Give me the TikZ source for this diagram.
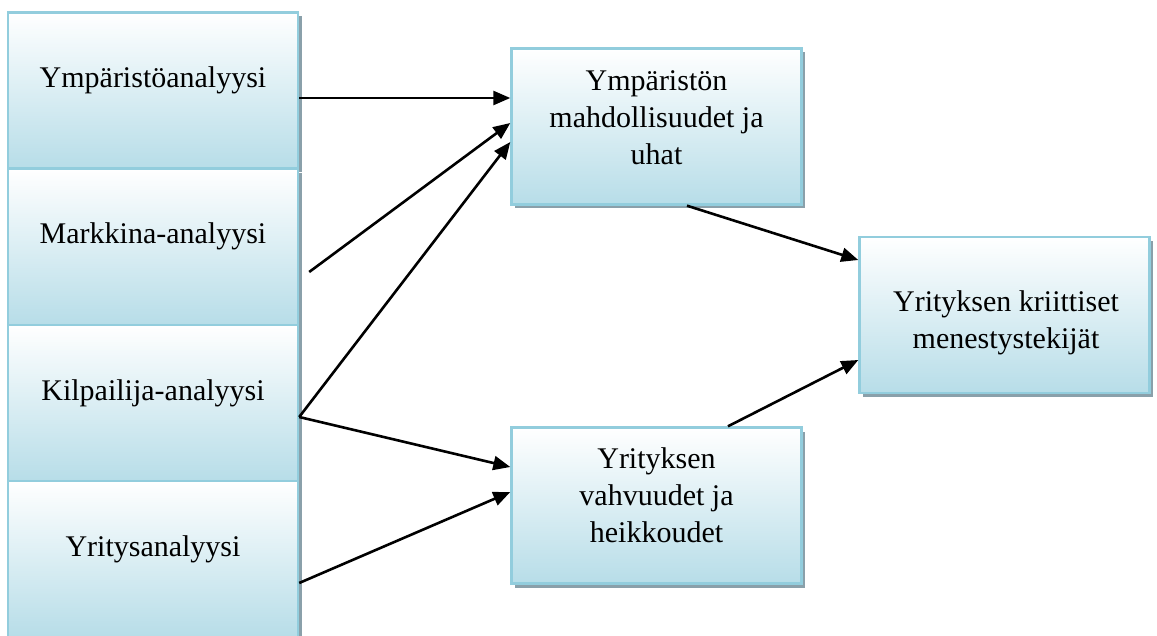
\documentclass[tikz,border=0pt]{standalone}
\usepackage{fontspec}
\setmainfont{Liberation Serif}
\usepackage{tikz}
\definecolor{boxline}{RGB}{146,205,221}
\definecolor{boxfill}{RGB}{183,221,232}
\definecolor{boxshadow}{RGB}{138,160,170}
\usetikzlibrary{arrows.meta}
\usetikzlibrary{shadows}
\tikzstyle{block} = [rectangle, draw=boxline, line width=2.4pt,
    top color=white, bottom color=boxfill, inner sep=0pt,
    minimum width=290pt, minimum height=156pt,
    drop shadow={shadow xshift=3.5pt, shadow yshift=-4pt, fill=boxshadow, opacity=1}]
\tikzstyle{txt} = [align=center, inner sep=0pt, font=\fontsize{30}{37}\selectfont]
\tikzstyle{link} = [line width=2.6pt, -{Triangle[length=17pt,width=14pt]}]

\begin{document}
\begin{tikzpicture}[x=1pt,y=-1pt]
    \useasboundingbox (0,0) rectangle (1157,636);

    % analyses on the left
    \node[block] (ymp) at (153,90.5) {};
    \node[block] (mark) at (153,247) {};
    \node[block] (kilp) at (153,403) {};
    \node[block] (yrit) at (153,559) {};
    \node[txt,anchor=base] (tymp) at ([yshift=2.5pt]ymp.center) {Ympäristöanalyysi};
    \node[txt,anchor=base] (tmark) at ([yshift=3pt]mark.center) {Markkina-analyysi};
    \node[txt,anchor=base] (tkilp) at ([yshift=3pt]kilp.center) {Kilpailija-analyysi};
    \node[txt,anchor=base] (tyrit) at ([yshift=3pt]yrit.center) {Yritysanalyysi};

    % results
    \node[block] (mahd) at (656.5,126.5) {};
    \node[txt] (tmahd) at (656.5,118) {Ympäristön\\mahdollisuudet ja\\uhat};
    \node[block] (vahv) at (656.5,505.5) {};
    \node[txt] (tvahv) at (656.5,495) {Yrityksen\\vahvuudet ja\\heikkoudet};
    \node[block] (krit) at (1004.5,315) {};
    \node[txt] (tkrit) at (1006,323) {Yrityksen kriittiset\\menestystekijät};

    \draw[link] ([yshift=-7.5pt]ymp.east) -- ([yshift=28.5pt]mahd.west);
    \draw[link] ([xshift=10pt,yshift=-25pt]mark.east) -- ([yshift=3.5pt]mahd.west);
    \draw[link] ([yshift=-14pt]kilp.east) -- ([yshift=-15.5pt]mahd.west);
    \draw[link] ([yshift=-14pt]kilp.east) -- ([yshift=38.5pt]vahv.west);
    \draw[link] ([yshift=-24pt]yrit.east) -- ([yshift=13.5pt]vahv.west);

    \draw[link] ([xshift=30.5pt]mahd.south) -- ([yshift=55pt]krit.west);
    \draw[link] ([xshift=71.5pt]vahv.north) -- ([yshift=-45pt]krit.west);
\end{tikzpicture}
\end{document}
